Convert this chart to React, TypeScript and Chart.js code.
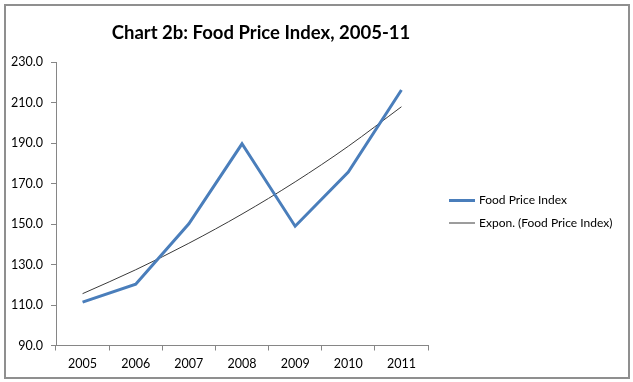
import React, { useEffect, useRef } from "react";
import { Chart, registerables } from "chart.js";

Chart.register(...registerables);

const titleText = "Chart 2b: Food Price Index, 2005-11";
const years = ["2005", "2006", "2007", "2008", "2009", "2010", "2011"];
const foodPriceIndex = [111.4, 120.3, 150.1, 189.6, 148.9, 175.6, 216.2];
const trendValues = [115.6, 127.4, 140.5, 154.9, 170.8, 188.4, 207.9];
const seriesLabel = "Food Price Index";
const trendLabel = "Expon. (Food Price Index)";
const yMin = 90;
const yMax = 230;
const yStep = 20;

const FONT = "Lato";
const AXIS_COLOR = "#868686";

const sideLegend = {
  id: "sideLegend",
  afterDraw(chart: any) {
    const { ctx, chartArea } = chart;
    ctx.save();
    // title
    ctx.fillStyle = "#000";
    ctx.font = `bold 18.5px ${FONT}`;
    ctx.textAlign = "center";
    ctx.textBaseline = "middle";
    ctx.fillText(chart.options.plugins.sideLegend.title, 261, 33);
    // legend
    chart.data.datasets.forEach((ds: any, i: number) => {
      const y = 200.5 + i * 22.5;
      const x0 = chartArea.right + 21;
      ctx.strokeStyle = ds.borderColor;
      ctx.lineWidth = ds.borderWidth;
      ctx.beginPath();
      ctx.moveTo(x0, y);
      ctx.lineTo(x0 + 26, y);
      ctx.stroke();
      ctx.fillStyle = "#000";
      ctx.font = `12px ${FONT}`;
      ctx.textBaseline = "middle";
      ctx.textAlign = "left";
      ctx.fillText(ds.label, x0 + 30, y);
    });
    ctx.restore();
  },
};

export default function App() {
  const canvasRef = useRef<HTMLCanvasElement | null>(null);

  useEffect(() => {
    if (!canvasRef.current) return;
    const chart = new Chart(canvasRef.current, {
      type: "line",
      data: {
        labels: years,
        datasets: [
          {
            label: seriesLabel,
            data: foodPriceIndex,
            borderColor: "#4A7EBB",
            borderWidth: 3,
            pointRadius: 0,
            tension: 0,
            fill: false,
          },
          {
            label: trendLabel,
            data: trendValues,
            borderColor: "#3a3a3a",
            borderWidth: 1,
            pointRadius: 0,
            cubicInterpolationMode: "monotone",
            fill: false,
          },
        ],
      },
      options: {
        responsive: false,
        animation: false,
        devicePixelRatio: 1,
        layout: { padding: { left: 0, right: 205, top: 62, bottom: 0 } },
        plugins: {
          legend: { display: false },
          tooltip: { enabled: false },
          title: { display: false },
          sideLegend: { title: titleText },
        } as any,
        scales: {
          x: {
            offset: true,
            grid: {
              offset: true,
              drawOnChartArea: false,
              drawTicks: true,
              tickLength: 5,
              color: AXIS_COLOR,
            },
            border: { color: AXIS_COLOR },
            ticks: { color: "#000", font: { family: FONT, size: 12.5 }, padding: 6 },
            afterFit: (scale: any) => {
              scale.height = 36.5;
            },
          },
          y: {
            min: yMin,
            max: yMax,
            grid: {
              drawOnChartArea: false,
              drawTicks: true,
              tickLength: 5,
              color: AXIS_COLOR,
            },
            border: { color: AXIS_COLOR },
            ticks: {
              stepSize: yStep,
              color: "#000",
              font: { family: FONT, size: 12.5 },
              padding: 8,
              callback: (v: any) => Number(v).toFixed(1),
            },
            afterFit: (scale: any) => {
              scale.width = 56;
            },
          },
        },
      },
      plugins: [sideLegend],
    });
    return () => chart.destroy();
  }, []);

  return (
    <div style={{ position: "absolute", left: 0, top: 0, width: 633, height: 382, background: "#fff" }}>
      <canvas ref={canvasRef} width={633} height={382} style={{ position: "absolute", left: 0, top: 0, width: 633, height: 382 }} />
      <div
        style={{
          position: "absolute",
          left: 4,
          top: 4,
          width: 626,
          height: 375,
          boxSizing: "border-box",
          border: "2px solid #8f8f8f",
          pointerEvents: "none",
        }}
      />
    </div>
  );
}
